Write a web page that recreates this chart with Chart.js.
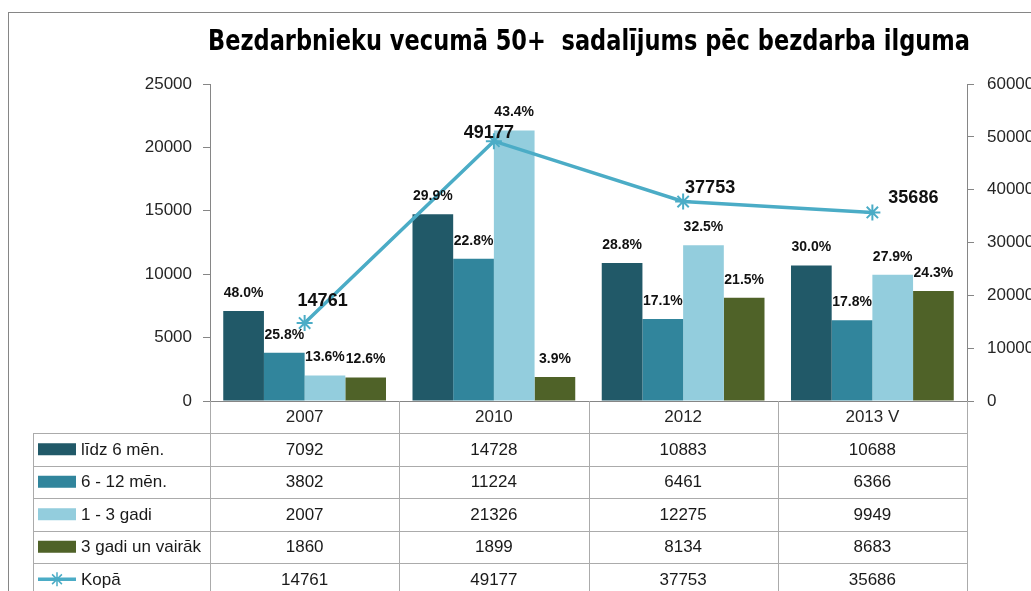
<!DOCTYPE html>
<html>
<head>
<meta charset="utf-8">
<title>Bezdarbnieku vecumā 50+</title>
<script src="https://cdn.jsdelivr.net/npm/chart.js@4/dist/chart.umd.min.js"></script>
<style>
    html, body { margin: 0; padding: 0; background: #fff; overflow: hidden; }
    #wrap { position: relative; width: 1031px; height: 591px; }
</style>
</head>
<body>
<div id="wrap"><canvas id="chart" width="1031" height="591"></canvas></div>
<script>
// Data
const years = ['2007', '2010', '2012', '2013 V'];
const lidz6 = [7092, 14728, 10883, 10688];
const no6lidz12 = [3802, 11224, 6461, 6366];
const no1lidz3 = [2007, 21326, 12275, 9949];
const virs3 = [1860, 1899, 8134, 8683];
const kopa = [14761, 49177, 37753, 35686];
const seriesNames = ['līdz 6 mēn.', '6 - 12 mēn.', '1 - 3 gadi', '3 gadi un vairāk', 'Kopā'];
const leftTicks = [0, 5000, 10000, 15000, 20000, 25000];
const rightTicks = [0, 10000, 20000, 30000, 40000, 50000, 60000];

const titleText = 'Bezdarbnieku vecumā 50+  sadalījums pēc bezdarba ilguma';
const colors = ['#215968', '#31859C', '#93CDDD', '#4F6228'];
const lineColor = '#4BACC6';
const gridGrey = '#868686';
const tableGrey = '#ABABAB';
const baseFont = "'Liberation Sans', Arial, sans-serif";

// label nudges for the Kopā values (Excel placed them by hand)
const kopaLabelShift = [[18, -22], [-5, -8], [27, -14], [41, -14]];

const frameAndTitle = {
    id: 'frameAndTitle',
    beforeDraw(chart) {
        const ctx = chart.ctx;
        ctx.save();
        ctx.strokeStyle = gridGrey;
        ctx.lineWidth = 1;
        ctx.strokeRect(8.5, 12.5, 1200, 800);
        ctx.fillStyle = '#000';
        ctx.font = "bold 29px 'Liberation Sans Narrow', 'DejaVu Sans Condensed', sans-serif";
        ctx.textAlign = 'center';
        ctx.textBaseline = 'middle';
        // squeeze to the width Calibri gives in the original
        const w = ctx.measureText(titleText).width;
        const sx = Math.min(1, 762 / w);
        ctx.translate(589, 42);
        ctx.scale(sx, 1);
        ctx.fillText(titleText, 0, 0);
        ctx.restore();
    }
};

const valueLabels = {
    id: 'valueLabels',
    afterDatasetsDraw(chart) {
        const ctx = chart.ctx;
        ctx.save();
        ctx.textAlign = 'center';
        ctx.textBaseline = 'middle';
        // percentage labels above bars
        ctx.font = 'bold 14px ' + baseFont;
        ctx.fillStyle = '#111';
        for (let d = 0; d < 4; d++) {
            const meta = chart.getDatasetMeta(d);
            meta.data.forEach((bar, i) => {
                const v = chart.data.datasets[d].data[i];
                const pct = (v / kopa[i] * 100).toFixed(1) + '%';
                ctx.fillText(pct, bar.x, bar.y - 18);
            });
        }
        // totals next to the line points
        ctx.font = 'bold 18px ' + baseFont;
        const lineMeta = chart.getDatasetMeta(4);
        lineMeta.data.forEach((pt, i) => {
            const s = kopaLabelShift[i];
            ctx.fillText(String(kopa[i]), pt.x + s[0], pt.y + s[1]);
        });
        ctx.restore();
    }
};

const dataTable = {
    id: 'dataTable',
    afterDraw(chart) {
        const ctx = chart.ctx;
        const area = chart.chartArea;
        const xs = chart.scales.x;
        const colW = (area.right - area.left) / years.length;
        const headTop = area.bottom;
        const rowTop = 433;
        const rowH = 32.5;
        const leftX = 33;
        const bottom = 600;

        ctx.save();
        ctx.strokeStyle = tableGrey;
        ctx.lineWidth = 1;
        ctx.beginPath();
        // vertical lines
        for (let i = 0; i <= years.length; i++) {
            const x = Math.round(area.left + i * colW) + 0.5;
            ctx.moveTo(x, headTop);
            ctx.lineTo(x, bottom);
        }
        ctx.moveTo(leftX + 0.5, rowTop);
        ctx.lineTo(leftX + 0.5, bottom);
        // horizontal lines
        for (let r = 0; r < 5; r++) {
            const y = Math.round(rowTop + r * rowH) + 0.5;
            ctx.moveTo(leftX, y);
            ctx.lineTo(area.right, y);
        }
        ctx.stroke();

        const rows = [lidz6, no6lidz12, no1lidz3, virs3, kopa];
        ctx.font = '17px ' + baseFont;
        ctx.textBaseline = 'middle';
        rows.forEach((vals, r) => {
            const cy = rowTop + r * rowH + rowH / 2;
            // legend key
            if (r < 4) {
                ctx.fillStyle = colors[r];
                ctx.fillRect(38, cy - 6, 38, 12);
            } else {
                ctx.strokeStyle = lineColor;
                ctx.lineWidth = 3.5;
                ctx.beginPath();
                ctx.moveTo(38, cy);
                ctx.lineTo(76, cy);
                ctx.stroke();
                ctx.lineWidth = 1.5;
                ctx.beginPath();
                const rr = 7;
                ctx.moveTo(57 - rr, cy); ctx.lineTo(57 + rr, cy);
                ctx.moveTo(57, cy - rr); ctx.lineTo(57, cy + rr);
                ctx.moveTo(57 - rr * 0.7, cy - rr * 0.7); ctx.lineTo(57 + rr * 0.7, cy + rr * 0.7);
                ctx.moveTo(57 - rr * 0.7, cy + rr * 0.7); ctx.lineTo(57 + rr * 0.7, cy - rr * 0.7);
                ctx.stroke();
            }
            ctx.fillStyle = '#1a1a1a';
            ctx.textAlign = 'left';
            ctx.fillText(seriesNames[r], 81, cy + 1);
            ctx.textAlign = 'center';
            vals.forEach((v, i) => {
                ctx.fillText(String(v), xs.getPixelForValue(i), cy + 1);
            });
        });
        ctx.restore();
    }
};

const plainNumber = v => String(v);

const ctx = document.getElementById('chart').getContext('2d');
new Chart(ctx, {
    data: {
        labels: years,
        datasets: [
            { type: 'bar', label: seriesNames[0], data: lidz6, backgroundColor: colors[0], yAxisID: 'y', order: 2 },
            { type: 'bar', label: seriesNames[1], data: no6lidz12, backgroundColor: colors[1], yAxisID: 'y', order: 2 },
            { type: 'bar', label: seriesNames[2], data: no1lidz3, backgroundColor: colors[2], yAxisID: 'y', order: 2 },
            { type: 'bar', label: seriesNames[3], data: virs3, backgroundColor: colors[3], yAxisID: 'y', order: 2 },
            {
                type: 'line', label: seriesNames[4], data: kopa, yAxisID: 'y1', order: 0,
                borderColor: lineColor, borderWidth: 3.5, tension: 0,
                pointStyle: 'star', pointRadius: 8, pointBorderWidth: 2,
                pointBorderColor: lineColor, pointBackgroundColor: lineColor
            }
        ]
    },
    options: {
        responsive: false,
        animation: false,
        layout: { padding: { top: 84, left: 0, right: 0, bottom: 0 } },
        datasets: {
            bar: { categoryPercentage: 0.86, barPercentage: 1.0 }
        },
        plugins: {
            legend: { display: false },
            tooltip: { enabled: false },
            title: { display: false }
        },
        scales: {
            x: {
                offset: true,
                grid: { display: false, drawTicks: false },
                border: { display: true, color: gridGrey },
                ticks: { color: '#262626', font: { size: 17, family: baseFont }, padding: 6 },
                afterFit(scale) { scale.height = 190; }
            },
            y: {
                position: 'left',
                min: 0, max: 25000,
                afterBuildTicks(scale) { scale.ticks = leftTicks.map(v => ({ value: v })); },
                grid: { drawOnChartArea: false, tickLength: 7, tickColor: gridGrey },
                border: { display: true, color: gridGrey },
                ticks: { color: '#262626', font: { size: 17, family: baseFont }, padding: 11, callback: plainNumber },
                afterFit(scale) { scale.width = 210; }
            },
            y1: {
                position: 'right',
                min: 0, max: 60000,
                afterBuildTicks(scale) { scale.ticks = rightTicks.map(v => ({ value: v })); },
                grid: { drawOnChartArea: false, tickLength: 7, tickColor: gridGrey },
                border: { display: true, color: gridGrey },
                ticks: { color: '#262626', font: { size: 17, family: baseFont }, padding: 13, callback: plainNumber },
                afterFit(scale) { scale.width = 1031 - 967; }
            }
        }
    },
    plugins: [frameAndTitle, valueLabels, dataTable]
});
</script>
</body>
</html>
